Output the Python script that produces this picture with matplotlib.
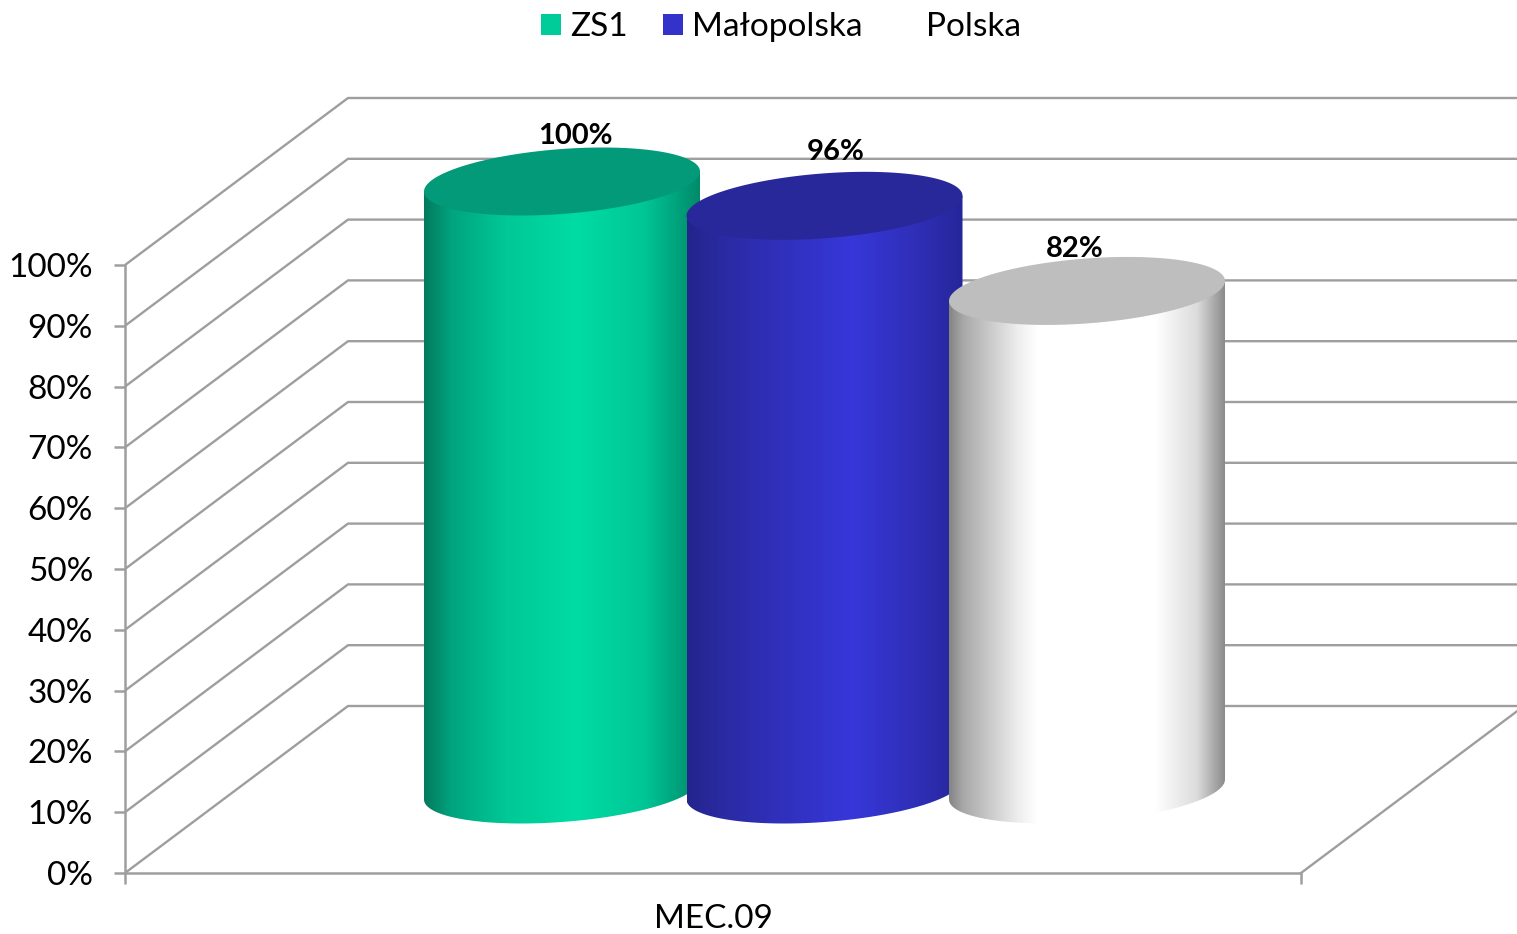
import matplotlib
matplotlib.use('Agg')
import matplotlib.pyplot as plt
import numpy as np
from matplotlib.colors import LinearSegmentedColormap
from matplotlib.patches import Patch, PathPatch
from matplotlib.path import Path

plt.rcParams['font.family'] = ['Lato', 'DejaVu Sans']

category = 'MEC.09'
series_names = ['ZS1', 'Małopolska', 'Polska']
series_values = [100, 96, 82]
y_ticks = [0, 10, 20, 30, 40, 50, 60, 70, 80, 90, 100]

legend_colors = ['#00CC99', '#3333CC', '#FFFFFF']
top_colors = ['#029A78', '#28289A', '#BEBEBE']
body_stops = [
    [(0, '#047A5E'), (0.1, '#00A47E'), (0.3, '#00C896'), (0.55, '#00DCA4'), (0.8, '#00C696'), (1, '#018A6A')],
    [(0, '#24248C'), (0.15, '#2B2BA6'), (0.6, '#3737DA'), (0.85, '#2E2EB4'), (1, '#26269A')],
    [(0, '#858585'), (0.05, '#A8A8A8'), (0.25, '#EEEEEE'), (0.32, '#FFFFFF'), (0.75, '#FFFFFF'), (0.9, '#DCDCDC'), (1, '#8C8C8C')],
]
label_offsets = [(13, 45), (11, 54), (-12, 42)]  # px, od srodka gornej elipsy

# skala rysunku
PX_X = 1176.0  # px na jednostke osi x
PX_Y = 6.08    # px na 1%
DEPTH_X = 223 / PX_X
DEPTH_Y = 167 / PX_Y
BAR_STEP = 262.5 / PX_X
ELL_A = 138 / PX_X
ELL_K = 10 / PX_Y
ELL_H = 32.5 / PX_Y
GRID = '#9E9E9E'


def ellipse(cx, cy, t):
    # pochylona elipsa podstawy walca
    return cx + ELL_A * np.cos(t), cy + ELL_K * np.cos(t) + ELL_H * np.sin(t)


fig = plt.figure(figsize=(15.17, 9.34), dpi=100)
ax = fig.add_axes([125 / 1517, 61 / 934, 1392 / 1517, 873 / 934])
ax.patch.set_alpha(0)

# siatka: sciana boczna i tylna
for v in y_ticks:
    ax.plot([0, DEPTH_X, 1392 / PX_X], [v, v + DEPTH_Y, v + DEPTH_Y], color=GRID, lw=1.7, zorder=1)
ax.plot([1, 1 + DEPTH_X], [0, DEPTH_Y], color=GRID, lw=1.7, zorder=1)

# walce
for i, value in enumerate(series_values):
    cx = 0.5 + (i - 1) * BAR_STEP + DEPTH_X / 2
    base = DEPTH_Y / 2
    top = base + value

    t_low = np.linspace(np.pi, 2 * np.pi, 80)
    t_up = np.linspace(0, 2 * np.pi, 160)
    xb, yb = ellipse(cx, base, t_low)
    xt, yt = ellipse(cx, top, t_up)
    outline = np.column_stack([
        np.r_[xb, xt[0], cx - ELL_A, xb[0]],
        np.r_[yb, yt[0], top - ELL_K, yb[0]],
    ])
    path = Path(outline, closed=False)

    cmap = LinearSegmentedColormap.from_list('walec', body_stops[i])
    img = ax.imshow(np.linspace(0, 1, 512).reshape(1, -1), cmap=cmap, aspect='auto',
                    extent=[cx - ELL_A, cx + ELL_A, base - ELL_H - 3, top + ELL_H],
                    zorder=2 + i, interpolation='bilinear')
    clip = PathPatch(path, transform=ax.transData, fc='none', ec='none')
    ax.add_patch(clip)
    img.set_clip_path(clip)

    ax.fill(xt, yt, color=top_colors[i], lw=0, zorder=2.5 + i)

    dx, dy = label_offsets[i]
    ax.annotate(f'{value}%', (cx, top), xytext=(dx, dy), textcoords='offset pixels',
                ha='center', va='center', fontsize=21, fontweight='bold', color='black', zorder=8)

# osie
ax.set_xlim(0, 1392 / PX_X)
ax.set_ylim(0, 873 / PX_Y)
for s in ['top', 'right']:
    ax.spines[s].set_visible(False)
ax.spines['left'].set_bounds(0, 100)
ax.spines['bottom'].set_bounds(0, 1)
for s in ['left', 'bottom']:
    ax.spines[s].set_color(GRID)
    ax.spines[s].set_linewidth(1.8)

ax.set_yticks(y_ticks)
ax.set_yticklabels([f'{v}%' for v in y_ticks])
ax.tick_params(axis='y', length=8, width=1.8, color=GRID, pad=15, labelsize=24, labelcolor='black')
ax.set_xticks([0, 1])
ax.set_xticklabels(['', ''])
ax.tick_params(axis='x', which='major', length=8, width=1.8, color=GRID)
ax.set_xticks([0.5], minor=True)
ax.set_xticklabels([category], minor=True)
ax.tick_params(axis='x', which='minor', length=0, pad=22, labelsize=24, labelcolor='black')

handles = [Patch(facecolor=c, edgecolor='none') for c in legend_colors]
fig.legend(handles, series_names, loc='upper center', bbox_to_anchor=(781 / 1517, 1 + 18 / 934),
           ncol=3, frameon=False, fontsize=24, handlelength=0.6, handleheight=0.6,
           handletextpad=0.27, columnspacing=1.05)

fig.savefig('out.png', dpi=100)
